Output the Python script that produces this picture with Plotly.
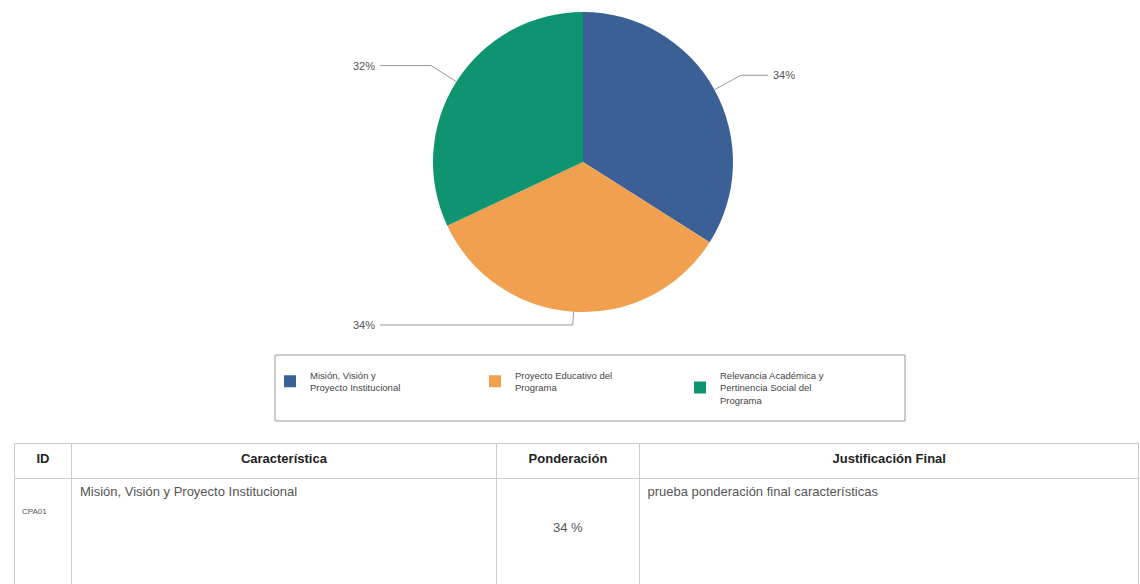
import math
import plotly.graph_objects as go

# ---- data ----
categories = ["Misión, Visión y Proyecto Institucional",
              "Proyecto Educativo del Programa",
              "Relevancia Académica y Pertinencia Social del Programa"]
legend_names = ["Misión, Visión y<br>Proyecto Institucional",
                "Proyecto Educativo del<br>Programa",
                "Relevancia Académica y<br>Pertinencia Social del<br>Programa"]
values = [34, 34, 32]
colors = ["#3b6096", "#f0a04e", "#0e9470"]

table_header = ["ID", "Característica", "Ponderación", "Justificación Final"]
table_ids = ["CPA01"]
table_chars = ["Misión, Visión y Proyecto Institucional"]
table_weights = ["34 %"]
table_just = ["prueba ponderación final características"]

W, H = 1140, 584
# pie geometry in pixels
CX, CY, R = 583, 162, 150

def px(x):
    return x / W

def py(y):
    return 1 - y / H

fig = go.Figure()
fig.add_trace(go.Pie(
    labels=legend_names, values=values, sort=False, direction="clockwise",
    rotation=0, marker=dict(colors=colors, line=dict(width=0)),
    textinfo="none", hoverinfo="label+percent",
    domain=dict(x=[px(CX - R), px(CX + R)], y=[py(CY + R), py(CY - R)]),
))

# leader lines and labels computed from values
total = sum(values)
cum = 0
shapes, annots = [], []
LEFT_END, RIGHT_END = 380, 768
for v in values:
    mid = (cum + v / 2) / total * 2 * math.pi
    cum += v
    sx, sy = math.sin(mid), -math.cos(mid)
    ex, ey = CX + R * sx, CY + R * sy
    ext = 30
    ky = CY + (R + ext) * sy
    if ky > 325:
        ext = (325 - CY) / sy - R
        ky = 325
    kx = CX + (R + ext) * sx
    right = sx > 0.2
    endx = RIGHT_END if right else LEFT_END
    for (x0, y0, x1, y1) in [(ex, ey, kx, ky), (kx, ky, endx, ky)]:
        shapes.append(dict(type="line", xref="paper", yref="paper",
                           x0=px(x0), y0=py(y0), x1=px(x1), y1=py(y1),
                           line=dict(color="#9a9a9a", width=1)))
    annots.append(dict(xref="paper", yref="paper",
                       x=px(endx + (3 if right else -3)), y=py(ky),
                       xanchor="left" if right else "right", yanchor="middle",
                       text=f"{round(v / total * 100)}%", showarrow=False,
                       font=dict(size=11, color="#555", family="Liberation Sans")))

# legend frame
shapes.append(dict(type="rect", xref="paper", yref="paper",
                   x0=px(275), x1=px(905), y0=py(421), y1=py(355),
                   line=dict(color="#999", width=1), fillcolor="rgba(0,0,0,0)"))

NB = "\u00a0"
fig.add_trace(go.Table(
    domain=dict(x=[px(14), px(1139)], y=[0, py(443)]),
    columnwidth=[58, 425, 143, 500],
    header=dict(values=[f"<b>{h}</b>" for h in table_header],
                align="center", height=35,
                fill=dict(color="white"),
                line=dict(color="#cccccc", width=1),
                font=dict(size=13, color="#222", family="Liberation Sans")),
    cells=dict(values=[[NB + "<br>" + NB + "<br>" + t for t in table_ids], table_chars,
                       [NB + "<br>" + NB + "<br>" + t for t in table_weights], table_just],
               align=["left", "left", "center", "left"], height=106,
               fill=dict(color="white"),
               line=dict(color="#cccccc", width=1),
               font=dict(size=[8, 13, 13, 13], color="#555",
                         family="Liberation Sans")),
))

fig.update_layout(
    width=W, height=H, margin=dict(l=0, r=0, t=0, b=0),
    paper_bgcolor="white", plot_bgcolor="white",
    shapes=shapes, annotations=annots,
    showlegend=True,
    legend=dict(orientation="h", x=px(270), y=py(388), xanchor="left",
                yanchor="middle", borderwidth=0, bgcolor="rgba(0,0,0,0)",
                font=dict(size=9.5, color="#444", family="Liberation Sans"),
                entrywidth=160, valign="middle", traceorder="normal"),
)

fig.write_html("out.html")
